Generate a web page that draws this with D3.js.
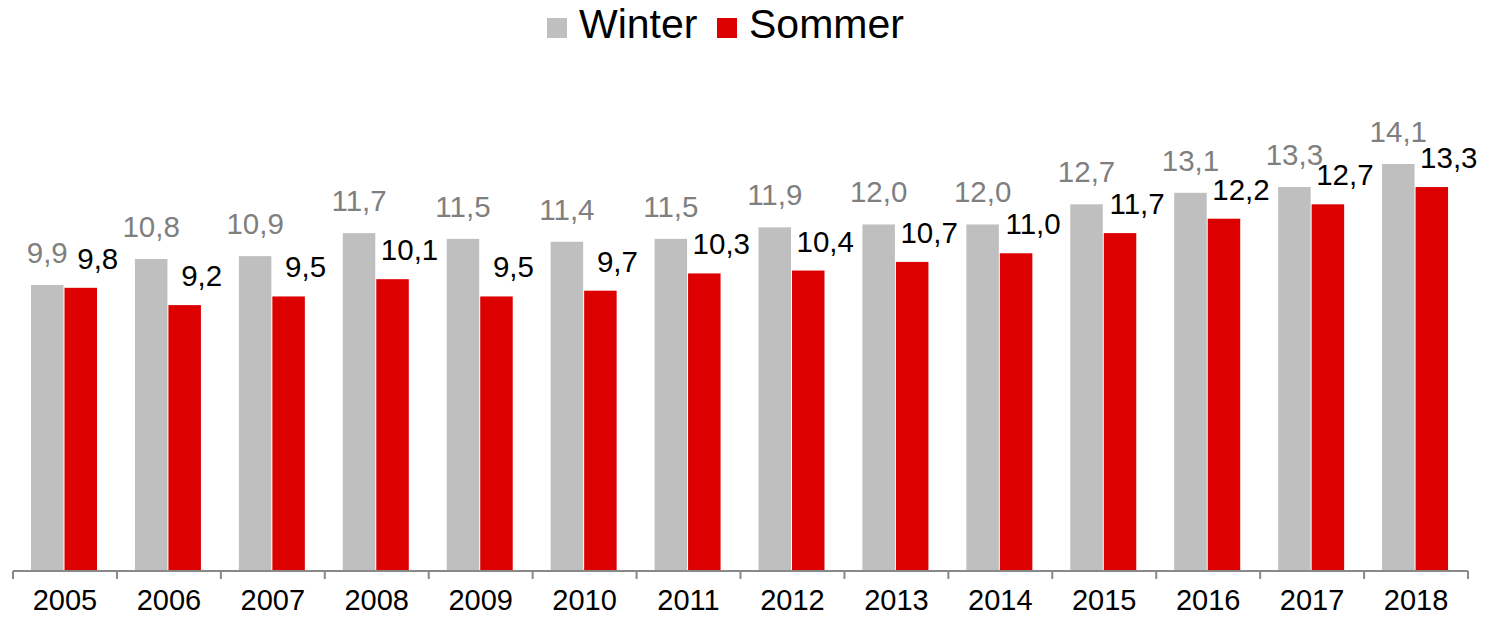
<!DOCTYPE html>
<html>
  <head>
    <meta charset="utf-8" />
    <title>Winter / Sommer</title>
    <script src="https://d3js.org/d3.v7.min.js"></script>
    <style>
      body { margin: 0; background: #fff; }
      text { font-family: "Liberation Sans", Arial, sans-serif; }
    </style>
  </head>
  <body>
    <svg width="1494" height="617"></svg>
    <script>
      var years = ["2005", "2006", "2007", "2008", "2009", "2010", "2011", "2012", "2013", "2014", "2015", "2016", "2017", "2018"];
      var winter = [9.9, 10.8, 10.9, 11.7, 11.5, 11.4, 11.5, 11.9, 12.0, 12.0, 12.7, 13.1, 13.3, 14.1];
      var sommer = [9.8, 9.2, 9.5, 10.1, 9.5, 9.7, 10.3, 10.4, 10.7, 11.0, 11.7, 12.2, 12.7, 13.3];
      var seriesNames = ["Winter", "Sommer"];

      var svg = d3.select("svg");
      var colors = { Winter: "#bfbfbf", Sommer: "#dd0000" };
      var labelColors = { Winter: "#7f7f7f", Sommer: "#000000" };

      var x = d3.scaleBand().domain(years).range([13, 1468]);
      var xs = d3.scaleBand().domain(seriesNames).range([18, 84]).paddingInner(0.03);
      var y = d3.scaleLinear().domain([0, 14.1]).range([570, 164]);

      var fmt = function (v) {
        return d3.format(".1f")(v).replace(".", ",");
      };

      var rows = years.map(function (yr, i) {
        return { year: yr, Winter: winter[i], Sommer: sommer[i] };
      });

      var groups = svg
        .selectAll(".year")
        .data(rows)
        .enter()
        .append("g")
        .attr("transform", function (d) {
          return "translate(" + x(d.year) + ",0)";
        });

      groups
        .selectAll("rect")
        .data(function (d) {
          return seriesNames.map(function (s) {
            return { key: s, value: d[s] };
          });
        })
        .enter()
        .append("rect")
        .attr("x", function (d) { return xs(d.key); })
        .attr("width", xs.bandwidth())
        .attr("y", function (d) { return y(d.value); })
        .attr("height", function (d) { return y(0) - y(d.value); })
        .attr("fill", function (d) { return colors[d.key]; });

      // Werte über den Balken
      groups
        .selectAll("text.val")
        .data(function (d) {
          return seriesNames.map(function (s) {
            return { key: s, value: d[s] };
          });
        })
        .enter()
        .append("text")
        .attr("class", "val")
        .attr("text-anchor", "middle")
        .attr("font-size", 29.5)
        .attr("fill", function (d) { return labelColors[d.key]; })
        .attr("x", function (d) {
          return xs(d.key) + xs.bandwidth() / 2 + (d.key === "Sommer" ? 17 : 0);
        })
        .attr("y", function (d) {
          return y(d.value) - (d.key === "Sommer" ? 19 : 22);
        })
        .text(function (d) { return fmt(d.value); });

      // Achse
      var axis = svg.append("g").attr("stroke", "#898989").attr("stroke-width", 2);
      axis.append("line")
        .attr("x1", x.range()[0]).attr("x2", x.range()[1])
        .attr("y1", y(0) + 1).attr("y2", y(0) + 1);
      axis.selectAll(".tick")
        .data(years.map(function (d) { return x(d); }).concat([x.range()[1]]))
        .enter()
        .append("line")
        .attr("x1", function (d) { return d; })
        .attr("x2", function (d) { return d; })
        .attr("y1", y(0) + 1)
        .attr("y2", y(0) + 9);

      svg.selectAll(".year-label")
        .data(years)
        .enter()
        .append("text")
        .attr("text-anchor", "middle")
        .attr("font-size", 29)
        .attr("fill", "#000")
        .attr("x", function (d) { return x(d) + x.bandwidth() / 2; })
        .attr("y", 610)
        .text(function (d) { return d; });

      // Legende
      var legend = svg.append("g");
      var legendItems = [
        { key: "Winter", x: 547 },
        { key: "Sommer", x: 717 },
      ];
      legendItems.forEach(function (item) {
        legend.append("rect")
          .attr("x", item.x).attr("y", 18)
          .attr("width", 20).attr("height", 20)
          .attr("fill", colors[item.key]);
        legend.append("text")
          .attr("x", item.x + 32).attr("y", 38)
          .attr("font-size", 41)
          .attr("fill", "#000")
          .text(item.key);
      });
    </script>
  </body>
</html>
